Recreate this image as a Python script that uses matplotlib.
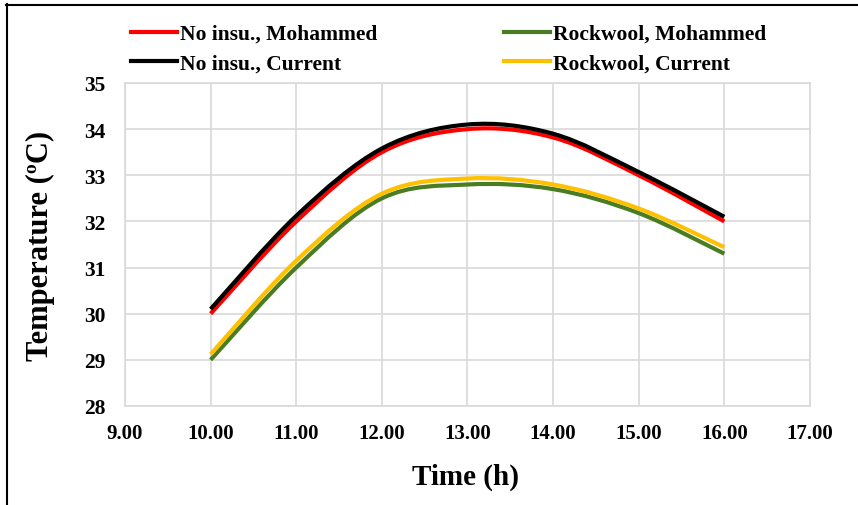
import numpy as np
import matplotlib
matplotlib.use('Agg')
from matplotlib import pyplot as plt
from matplotlib.path import Path
from matplotlib.patches import PathPatch
from matplotlib.lines import Line2D

# data
hours = [10, 11, 12, 13, 14, 15, 16]
no_insu_mohammed = [30.0, 32.0, 33.5, 34.0, 33.82, 33.0, 32.0]
no_insu_current = [30.1, 32.12, 33.58, 34.1, 33.9, 33.07, 32.1]
rockwool_mohammed = [29.0, 31.0, 32.5, 32.8, 32.7, 32.18, 31.3]
rockwool_current = [29.12, 31.15, 32.6, 32.93, 32.8, 32.28, 31.44]

labels = ['No insu., Mohammed', 'No insu., Current', 'Rockwool, Mohammed', 'Rockwool, Current']
colors = ['#ff0000', '#000000', '#4a7d23', '#ffc000']

x_ticks = np.arange(9, 17.5, 1)
y_ticks = np.arange(28, 35.5, 1)

plt.rcParams['font.family'] = ['Liberation Serif', 'DejaVu Serif']
plt.rcParams['font.weight'] = 'bold'


def smooth_path(xs, ys):
	# Excel style smoothed line as cubic bezier segments
	pts = np.column_stack([xs, ys]).astype(float)
	n = len(pts)
	verts = [pts[0]]
	codes = [Path.MOVETO]
	for i in range(n - 1):
		p0 = pts[max(i - 1, 0)]
		p1 = pts[i]
		p2 = pts[i + 1]
		p3 = pts[min(i + 2, n - 1)]
		c1 = p1 + (p2 - p0) / 6.0
		c2 = p2 - (p3 - p1) / 6.0
		verts += [c1, c2, p2]
		codes += [Path.CURVE4] * 3
	return Path(verts, codes)


fig = plt.figure(figsize=(8.58, 5.06), dpi=100)
ax = fig.add_axes([0.1457, 0.1957, 0.7983, 0.6383])

series = [no_insu_mohammed, no_insu_current, rockwool_mohammed, rockwool_current]
# draw order: rockwool first so black / yellow sit on top like the original
for idx in [2, 3, 0, 1]:
	patch = PathPatch(smooth_path(hours, series[idx]), facecolor='none',
					  edgecolor=colors[idx], lw=3, capstyle='butt', zorder=3)
	ax.add_patch(patch)

handles = [Line2D([], [], color=c, lw=3) for c in colors]

ax.set_xlim(9, 17)
ax.set_ylim(28, 35)
ax.set_xticks(x_ticks)
ax.set_xticklabels(['%.2f' % v for v in x_ticks])
ax.set_yticks(y_ticks)
ax.set_yticklabels(['%d' % v for v in y_ticks])
ax.tick_params(axis='x', length=0, labelsize=15, pad=12)
ax.tick_params(axis='y', length=0, labelsize=15.5, pad=14)
ax.grid(True, color='#d9d9d9', lw=1.2)
ax.set_axisbelow(True)
for s in ax.spines.values():
	s.set_color('#d9d9d9')
	s.set_linewidth(1.2)

ax.set_xlabel('Time (h)', fontsize=21, fontweight='bold')
ax.xaxis.set_label_coords(0.497, -0.175)
ax.set_ylabel('Temperature (ºC)', fontsize=22, fontweight='bold')
ax.yaxis.set_label_coords(-0.102, 0.5)

fig.legend(handles, labels, loc='center', bbox_to_anchor=(0.523, 0.902), ncol=2,
		   frameon=False, handlelength=2.1, handletextpad=0.15,
		   columnspacing=5.9, labelspacing=0.42, prop={'weight': 'bold', 'size': 15.5})

# frame lines on the left and top of the picture
fig.add_artist(Line2D([0.008, 0.008], [0, 0.99], color='black', lw=1.5, transform=fig.transFigure))
fig.add_artist(Line2D([0.007, 1.0], [0.988, 0.988], color='black', lw=1.5, transform=fig.transFigure))

fig.savefig('out.png', dpi=100)
